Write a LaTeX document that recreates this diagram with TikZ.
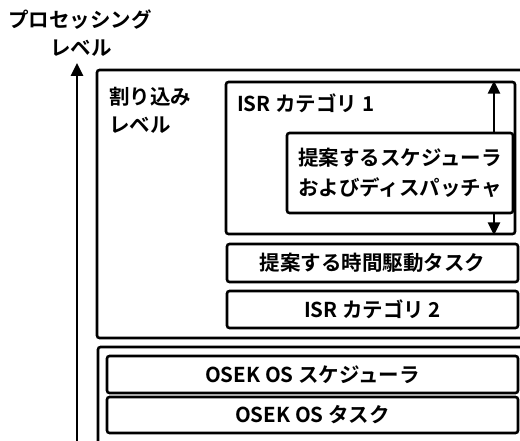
\documentclass[tikz,border=0pt]{standalone}
\usepackage{fontspec}
\newfontfamily\jp{Noto Sans CJK JP}[BoldFont={* Bold}]
\usetikzlibrary{arrows.meta}
\begin{document}
\begin{tikzpicture}[x=1pt,y=-1pt,
  box/.style={draw,line width=2.6pt,rounded corners=2.5pt,inner sep=0pt},
  lbl/.style={font=\jp\bfseries\fontsize{20.5}{24}\selectfont,inner sep=0pt},
  arr/.style={line width=2.6pt,-{Triangle[length=13pt,width=12pt]}}]
\useasboundingbox (0,0) rectangle (520,441);
\clip (0,0) rectangle (520,441);
% outer boxes
\draw[box] (97,70) rectangle (540,338);
\draw[box] (98,347) rectangle (540,460);
% axis arrow
\coordinate (axb) at (77,445);
\coordinate (axt) at (77,63);
\draw[arr] (axb) -- (axt);
\node[lbl] (pl1) at (80,20) {プロセッシング};
\node[lbl] (pl2) at (81,48) {レベル};
\node[lbl,anchor=west] (il1) at (109,97) {割り込み};
\node[lbl,anchor=west] (il2) at (109,125) {レベル};
% ISR cat 1
\node[box,minimum width=289pt,minimum height=152pt] (isr1) at (370.5,158) {};
\node[lbl,anchor=west] (isr1t) at (237,103) {ISR カテゴリ 1};
\node[box,fill=white,minimum width=226pt,minimum height=80pt,align=center,font=\jp\bfseries\fontsize{20.5}{30}\selectfont] (sch) at (400,173) {提案するスケジューラ\\およびディスパッチャ};
\coordinate (ax) at (494,0);
\draw[arr] (sch.north -| ax) -- (isr1.north -| ax);
\draw[arr] (sch.south -| ax) -- (isr1.south -| ax);
% other boxes
\node[box,minimum width=291pt,minimum height=38pt] (td) at (372.5,263) {};
\node[lbl] at (td.center) {提案する時間駆動タスク};
\node[box,minimum width=291pt,minimum height=37pt] (isr2) at (372.5,309.5) {};
\node[lbl] at (isr2.center) {ISR カテゴリ 2};
\node[box,minimum width=411pt,minimum height=37pt] (ossch) at (312.5,374.5) {};
\node[lbl] at (ossch.center) {OSEK OS スケジューラ};
\node[box,minimum width=411pt,minimum height=36pt] (ostask) at (312.5,415) {};
\node[lbl] at (ostask.center) {OSEK OS タスク};
\end{tikzpicture}
\end{document}
